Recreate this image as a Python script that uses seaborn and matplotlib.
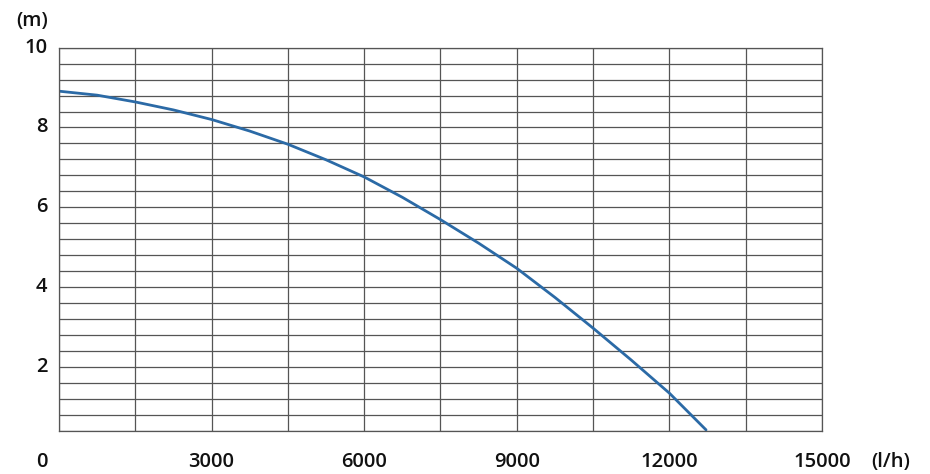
import matplotlib
matplotlib.use("Agg")
import matplotlib.pyplot as plt
import seaborn as sns
import numpy as np
import pandas as pd

flow = [0, 750, 1500, 2250, 3000, 3750, 4500, 5250, 6000, 6750, 7500, 8250,
        9000, 9750, 10500, 11250, 12000, 12720]
head = [8.91, 8.81, 8.64, 8.44, 8.20, 7.91, 7.58, 7.19, 6.76, 6.25, 5.69, 5.10,
        4.47, 3.74, 2.97, 2.17, 1.34, 0.42]
x_ticks = [3000, 6000, 9000, 12000, 15000]
y_ticks = [2, 4, 6, 8, 10]

sns.set_theme(style="white")
plt.rcParams['font.family'] = ['Open Sans', 'DejaVu Sans']

fig = plt.figure(figsize=(9.3, 4.74), dpi=100)
ax = fig.add_axes([0.0634, 0.0914, 0.8205, 0.808])

df = pd.DataFrame({"flow": flow, "head": head})
sns.lineplot(data=df, x="flow", y="head", ax=ax, color="#2b6aa6", linewidth=2)

ax.set_xlim(0, 15000)
ax.set_ylim(0.4, 10)
ax.set_xticks(np.arange(0, 15001, 1500))
ax.set_yticks(np.arange(0.4, 10.01, 0.4))
ax.grid(True, color="#555555", linewidth=0.9)
ax.tick_params(length=0, labelbottom=False, labelleft=False)
for s in ax.spines.values():
    s.set_color("#555555")
    s.set_linewidth(0.9)
ax.set_xlabel("")
ax.set_ylabel("")

tf = dict(fontsize=14.5, color="#111111", fontweight="semibold")
for v in x_ticks:
    ax.text(v, -0.055, str(v), transform=ax.get_xaxis_transform(), ha="center", va="top", **tf)
for v in y_ticks:
    ax.text(-0.015, v, str(v), transform=ax.get_yaxis_transform(), ha="right", va="center", **tf)
ax.text(-0.023, -0.055, "0", transform=ax.transAxes, ha="center", va="top", **tf)
ax.text(1.09, -0.055, "(l/h)", transform=ax.transAxes, ha="center", va="top", **tf)
ax.text(-0.035, 1.07, "(m)", transform=ax.transAxes, ha="center", va="center", **tf)

fig.savefig("out.png", dpi=100)
